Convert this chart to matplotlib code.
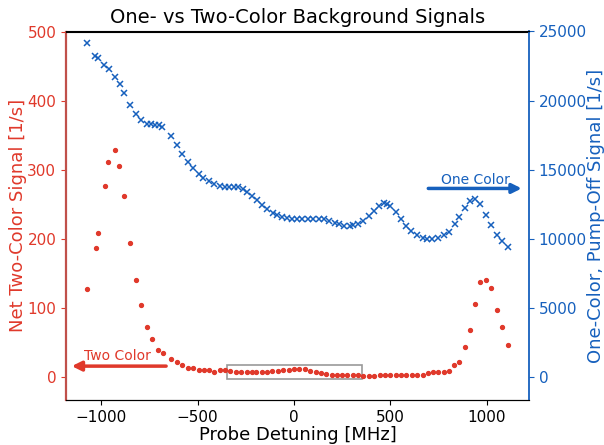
import matplotlib
matplotlib.use("Agg")
import matplotlib.pyplot as plt
from matplotlib.patches import Rectangle

# ---- data ----
two_color_detuning = [-1073, -1027, -1017, -981, -962, -927, -905, -881, -850, -819,
                      -793, -762, -736, -705, -681, -637, -608, -580, -551, -523,
                      -494, -468, -440, -413, -385, -358, -330, -301, -273, -245,
                      -218, -195, -167, -140, -112, -84, -55, -27, 2, 27,
                      55, 84, 112, 140, 167, 195, 223, 249, 276, 304,
                      332, 359, 389, 416, 444, 472, 499, 527, 554, 582,
                      610, 637, 666, 692, 719, 746, 776, 802, 831, 856,
                      884, 910, 939, 965, 995, 1022, 1052, 1078, 1109]
two_color_signal = [127, 187, 209, 277, 311, 329, 306, 262, 194, 141,
                    105, 73, 55, 40, 35, 26, 22, 18, 13, 14,
                    10, 10.5, 9.7, 8.2, 10, 9.7, 9.1, 7.7, 7.7, 7.2,
                    7.2, 7.7, 7.7, 7.2, 8.7, 9.1, 10.5, 10.5, 11.6, 11.6,
                    12, 8.7, 6.8, 5.8, 5.3, 3.3, 3.3, 2.9, 2.5, 2.5,
                    2.5, 1.9, 1.9, 1.4, 2.5, 2.5, 2.9, 2.5, 2.5, 2.9,
                    3.3, 3.3, 3.3, 6.2, 7.7, 7.7, 7.2, 8.7, 17.8, 21.7,
                    43, 68, 106, 137, 141, 129, 97, 72, 47]

one_color_detuning = [-1073, -1030, -1017, -983, -960, -927, -903, -881, -848, -819,
                      -794, -762, -741, -719, -698, -682, -637, -608, -579, -552,
                      -523, -495, -470, -440, -415, -386, -360, -337, -313, -288,
                      -267, -244, -217, -193, -167, -140, -111, -87, -61, -36,
                      -10, 13, 41, 73, 100, 128, 155, 183, 211, 233,
                      261, 289, 307, 330, 356, 387, 415, 442, 466, 480,
                      499, 527, 554, 580, 608, 636, 666, 691, 717, 745,
                      776, 802, 832, 856, 884, 910, 936, 965, 996, 1022,
                      1051, 1078, 1109]
one_color_signal = [24150, 23210, 23050, 22590, 22280, 21730, 21190, 20540, 19650, 19000,
                    18590, 18330, 18280, 18210, 18260, 18110, 17430, 16810, 16150, 15530,
                    15100, 14700, 14410, 14160, 13980, 13800, 13730, 13730, 13760, 13730,
                    13580, 13400, 13110, 12790, 12430, 12140, 11860, 11700, 11580, 11510,
                    11420, 11420, 11420, 11420, 11420, 11420, 11420, 11290, 11150, 11050,
                    10960, 10930, 10980, 11100, 11270, 11630, 11990, 12380, 12570, 12520,
                    12350, 11920, 11420, 10910, 10550, 10260, 10040, 9970, 10010, 10060,
                    10260, 10530, 11050, 11580, 12260, 12740, 12860, 12500, 11740, 11040,
                    10310, 9860, 9390]

red = "#e0392b"
blue = "#1660bd"

fig = plt.figure(figsize=(6.04, 4.45), dpi=100)
ax = fig.add_axes([66 / 604, 45 / 445, (529 - 66) / 604, (400 - 31.5) / 445])
ax2 = ax.twinx()

ax.plot(two_color_detuning, two_color_signal, 'o', color=red, markersize=2.8, zorder=3)
ax2.plot(one_color_detuning, one_color_signal, 'x', color=blue, markersize=5, mew=1.1)

ax.set_ylim(-33, 500)
ax2.set_ylim(-33 * 50, 25000)
ax.set_xlim(-1182, 1218)
ax.set_yticks([0, 100, 200, 300, 400, 500])
ax2.set_yticks([0, 5000, 10000, 15000, 20000, 25000])
ax.set_xticks([-1000, -500, 0, 500, 1000])

ax.set_title("One- vs Two-Color Background Signals", fontsize=14)
ax.set_xlabel("Probe Detuning [MHz]", fontsize=13, labelpad=1)
ax.set_ylabel("Net Two-Color Signal [1/s]", fontsize=13, color=red, labelpad=0)
ax2.set_ylabel("One-Color, Pump-Off Signal [1/s]", fontsize=13, color=blue, labelpad=0)

ax.tick_params(axis='x', labelsize=11)
ax.tick_params(axis='y', labelsize=11, colors=red)
ax2.tick_params(axis='y', labelsize=11, colors=blue)
ax2.spines['left'].set_visible(False)
ax2.spines['right'].set_color(blue)
ax.spines['right'].set_visible(False)
ax.spines['left'].set_color("#c0504a")
ax.spines['left'].set_linewidth(1.6)
ax2.spines['right'].set_linewidth(1.3)

ax.add_patch(Rectangle((-347, -2), 699, 20, fill=False, edgecolor="#999999", linewidth=1.2, zorder=2))

ax.annotate("", xy=(-1152, 16), xytext=(-663, 16),
            arrowprops=dict(arrowstyle='-|>', color=red, lw=2.5, mutation_scale=14,
                            shrinkA=0, shrinkB=0))
ax.text(-915, 30, "Two Color", color=red, fontsize=10, ha='center', va='center')
ax.annotate("", xy=(1180, 273), xytext=(696, 273),
            arrowprops=dict(arrowstyle='-|>', color=blue, lw=2.5, mutation_scale=14,
                            shrinkA=0, shrinkB=0))
ax.text(938, 285, "One Color", color=blue, fontsize=10, ha='center', va='center')

fig.savefig("out.png", dpi=100)
